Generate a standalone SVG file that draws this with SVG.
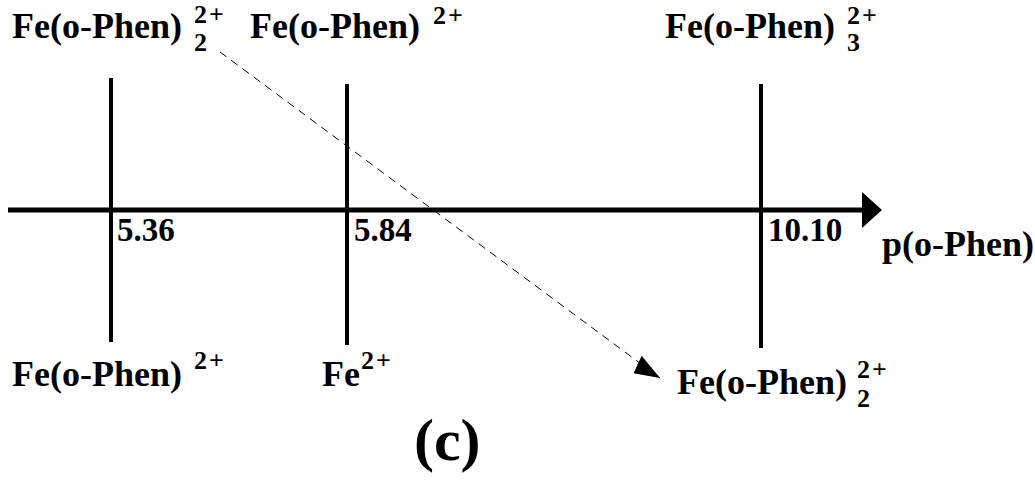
<svg xmlns="http://www.w3.org/2000/svg" width="1035" height="480" viewBox="0 0 1035 480">
<style>
text{font-family:"Liberation Serif","Times New Roman",serif;font-weight:700;fill:#000}
.l{font-size:36px}
.s{font-size:26px;letter-spacing:2px}
.n{font-size:33px}
.ax{stroke:#000;stroke-width:5;fill:none}
.v{stroke:#000;stroke-width:4;fill:none}
.d{stroke:#000;stroke-width:1;stroke-dasharray:8,6;fill:none}
</style>
<defs>
<marker id="ah2" markerWidth="32" markerHeight="24" refX="28" refY="12" orient="auto" markerUnits="userSpaceOnUse">
<path d="M0,5 L28,12 L4,24 Z" fill="#000"/>
</marker>
</defs>
<g id="connectors">
<line class="ax" x1="8" y1="210" x2="868" y2="210"/>
<path d="M862,192 L882,210 L862,228 Z" fill="#000"/>
<line class="v" x1="111" y1="78" x2="111" y2="342"/>
<line class="v" x1="347" y1="84" x2="347" y2="345"/>
<line class="v" x1="761" y1="84" x2="761" y2="348"/>
<line class="d" x1="220" y1="52" x2="660" y2="378" marker-end="url(#ah2)"/>
</g>
<g id="n1"><text class="l" x="12" y="38">Fe(o-Phen)</text><text class="s" x="194" y="23">2+</text><text class="s" x="194" y="51">2</text></g>
<g id="n2"><text class="l" x="250" y="38">Fe(o-Phen)</text><text class="s" x="433" y="24">2+</text></g>
<g id="n3"><text class="l" x="665" y="38">Fe(o-Phen)</text><text class="s" x="847" y="24">2+</text><text class="s" x="847" y="51">3</text></g>
<g id="t1"><text class="n" x="117" y="241">5.36</text></g>
<g id="t2"><text class="n" x="354" y="241">5.84</text></g>
<g id="t3"><text class="n" x="768" y="241">10.10</text></g>
<g id="axlabel"><text class="l" x="882" y="256">p(o-Phen)</text></g>
<g id="b1"><text class="l" x="12" y="386">Fe(o-Phen)</text><text class="s" x="194" y="369">2+</text></g>
<g id="b2"><text class="l" x="322" y="386">Fe</text><text class="s" x="361" y="369">2+</text></g>
<g id="b3"><text class="l" x="677" y="394">Fe(o-Phen)</text><text class="s" x="857" y="378">2+</text><text class="s" x="857" y="407">2</text></g>
<g id="cap"><text x="414" y="460" style="font-size:60px">(c)</text></g>
</svg>
